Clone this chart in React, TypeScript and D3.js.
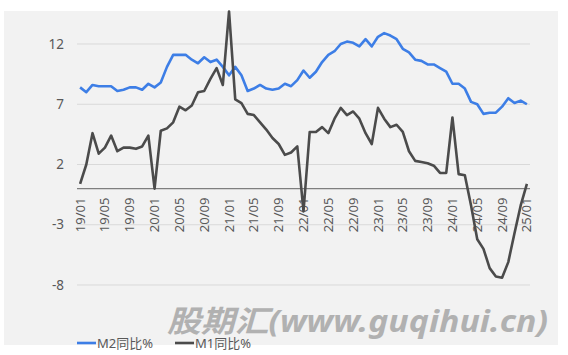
import * as d3 from "d3";

const months = d3.range(2019, 2026).flatMap((y) =>
  d3.range(1, 13).map((m) => `${String(y).slice(2)}/${String(m).padStart(2, "0")}`),
).slice(0, 73);

const m2Yoy = [
  8.4, 8.0, 8.6, 8.5, 8.5, 8.5, 8.1, 8.2, 8.4, 8.4, 8.2, 8.7,
  8.4, 8.8, 10.1, 11.1, 11.1, 11.1, 10.7, 10.4, 10.9, 10.5, 10.7, 10.1,
  9.4, 10.1, 9.4, 8.1, 8.3, 8.6, 8.3, 8.2, 8.3, 8.7, 8.5, 9.0,
  9.8, 9.2, 9.7, 10.5, 11.1, 11.4, 12.0, 12.2, 12.1, 11.8, 12.4, 11.8,
  12.6, 12.9, 12.7, 12.4, 11.6, 11.3, 10.7, 10.6, 10.3, 10.3, 10.0, 9.7,
  8.7, 8.7, 8.3, 7.2, 7.0, 6.2, 6.3, 6.3, 6.8, 7.5, 7.1, 7.3,
  7.0,
];

const m1Yoy = [
  0.4, 2.0, 4.6, 2.9, 3.4, 4.4, 3.1, 3.4, 3.4, 3.3, 3.5, 4.4,
  0.0, 4.8, 5.0, 5.5, 6.8, 6.5, 6.9, 8.0, 8.1, 9.1, 10.0, 8.6,
  14.7, 7.4, 7.1, 6.2, 6.1, 5.5, 4.9, 4.2, 3.7, 2.8, 3.0, 3.5,
  -1.9, 4.7, 4.7, 5.1, 4.6, 5.8, 6.7, 6.1, 6.4, 5.8, 4.6, 3.7,
  6.7, 5.8, 5.1, 5.3, 4.7, 3.1, 2.3, 2.2, 2.1, 1.9, 1.3, 1.3,
  5.9, 1.2, 1.1, -1.4, -4.2, -5.0, -6.6, -7.3, -7.4, -6.1, -3.7, -1.4,
  0.4,
];

const yTicks = [12, 7, 2, -3, -8];
const seriesNames = ["M2同比%", "M1同比%"];
const seriesColors = ["#3d7ee6", "#4b4b4b"];

const W = 568;
const H = 355;
const PLOT = { left: 77, right: 530 };
const FONT = "'Noto Sans', 'Noto Sans CJK SC', sans-serif";

export default function App() {
  const x = d3.scaleBand<string>().domain(months).range([PLOT.left, PLOT.right]);
  const cx = (i: number) => (x(months[i]) ?? 0) + x.bandwidth() / 2;
  // 12 -> y 44, -8 -> y 285
  const y = d3.scaleLinear().domain([-8, 12]).range([285, 44]);

  const line = d3
    .line<number>()
    .x((_, i) => cx(i))
    .y((v) => y(v));

  const labelIdx = months.map((_, i) => i).filter((i) => i % 4 === 0);

  return (
    <div style={{ position: "fixed", left: 0, top: 0 }}>
      <svg width={W} height={H} viewBox={`0 0 ${W} ${H}`} style={{ display: "block", background: "#fff" }}>
        <rect x={4} y={11} width={554} height={334} fill="#f2f2f2" />

        {yTicks.map((t) => (
          <g key={t}>
            <line x1={PLOT.left} x2={PLOT.right} y1={y(t)} y2={y(t)} stroke="#d9d9d9" strokeWidth={1} />
            <text
              x={64}
              y={y(t)}
              dy="0.35em"
              textAnchor="end"
              fontFamily={FONT}
              fontSize={13.5}
              fill="#595959"
            >
              {t}
            </text>
          </g>
        ))}

        <line x1={PLOT.left} x2={PLOT.right} y1={y(0)} y2={y(0)} stroke="#7f7f7f" strokeWidth={1.2} />

        {labelIdx.map((i) => (
          <text
            key={months[i]}
            transform={`translate(${cx(i)},${y(0) + 9}) rotate(-90)`}
            dy="0.35em"
            textAnchor="end"
            fontFamily={FONT}
            fontSize={13}
            fill="#595959"
          >
            {months[i]}
          </text>
        ))}

        <path d={line(m2Yoy) ?? ""} fill="none" stroke={seriesColors[0]} strokeWidth={2.6} strokeLinejoin="round" />
        <path d={line(m1Yoy) ?? ""} fill="none" stroke={seriesColors[1]} strokeWidth={2.6} strokeLinejoin="round" />

        <text
          x={167}
          y={332}
          fontFamily={FONT}
          fontSize={30}
          fontWeight="bold"
          fontStyle="italic"
          fill="#b1b1b1"
          textLength={381}
          lengthAdjust="spacingAndGlyphs"
        >
          股期汇(www.guqihui.cn)
        </text>

        {seriesNames.map((name, i) => {
          const lx = i === 0 ? 77 : 175;
          return (
            <g key={name}>
              <line x1={lx} x2={lx + 19} y1={343} y2={343} stroke={seriesColors[i]} strokeWidth={2.6} />
              <text x={lx + 20} y={343} dy="0.35em" fontFamily={FONT} fontSize={13} fill="#595959">
                {name}
              </text>
            </g>
          );
        })}
      </svg>
    </div>
  );
}
